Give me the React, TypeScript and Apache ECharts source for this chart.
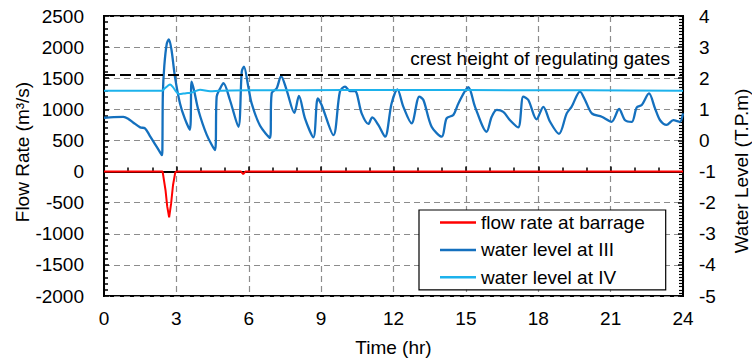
import React, { useEffect, useRef } from "react";
import * as echarts from "echarts";

// Flow rate at barrage (m3/s) vs time (hr)
const flowTime = [0, 2.43, 2.55, 2.62, 2.7, 2.78, 2.86, 2.95, 3.0, 5.68, 5.77, 5.86, 24];
const flowValue = [0, 0, -300, -560, -735, -520, -220, -20, 0, 0, -40, 0, 0];

// Water level at III (T.P.m)
const levelIIITime = [
  0, 0.4, 0.8, 1.0, 1.22, 1.5, 1.7, 1.9, 2.1, 2.3, 2.4, 2.42, 2.44, 2.5, 2.6, 2.69, 2.8, 2.94, 3.15,
  3.35, 3.56, 3.63, 3.73, 3.91, 4.26, 4.6, 4.67, 4.8, 4.95, 5.22, 5.57, 5.71, 5.8, 5.98, 6.12, 6.47,
  6.88, 6.95, 7.16, 7.34, 7.57, 7.89, 8.08, 8.33, 8.68, 8.86, 9.02, 9.51, 9.78, 9.99, 10.2, 10.4,
  10.68, 10.96, 11.12, 11.37, 11.65, 11.92, 12.16, 12.41, 12.75, 13.07, 13.24, 13.58, 14.0, 14.2,
  14.48, 14.69, 15.1, 15.38, 15.86, 16.07, 16.28, 16.55, 16.83, 17.17, 17.38, 17.59, 17.93, 18.21,
  18.49, 18.86, 19.18, 19.38, 19.73, 19.94, 20.22, 20.63, 21.04, 21.35, 21.6, 21.88, 22.08, 22.29,
  22.59, 22.84, 23.05, 23.32, 23.6, 23.87, 24,
];
const levelIIIValue = [
  0.73, 0.75, 0.76, 0.7, 0.57, 0.42, 0.39, 0.15, -0.1, -0.35, -0.47, -0.3, 1.5, 2.4, 3.1, 3.25, 2.9,
  2.05, 1.19, 0.7, 0.34, 1.89, 1.62, 0.98, 0.18, -0.31, 1.41, 1.65, 1.84, 1.3, 0.44, 2.21, 2.37, 1.73,
  1.19, 0.47, 0.08, 1.51, 1.68, 2.07, 1.62, 0.89, 1.43, 0.71, 0.1, 1.35, 1.14, 0.17, 1.57, 1.73,
  1.59, 1.59, 0.87, 0.53, 0.74, 0.5, 0.12, 1.19, 1.64, 1.08, 0.55, 1.41, 1.3, 0.44, 0.12, 0.71, 0.82,
  1.19, 1.71, 1.08, 0.28, 0.76, 0.98, 0.92, 0.65, 0.42, 1.41, 1.3, 0.68, 1.08, 0.6, 0.21, 0.87, 1.08,
  1.57, 1.3, 0.87, 0.76, 0.6, 1.01, 0.65, 0.6, 1.06, 1.14, 1.51, 1.03, 0.65, 0.5, 0.65, 0.6, 0.87,
];

// Water level at IV (T.P.m)
const levelIVTime = [0, 2.4, 2.5, 2.65, 2.74, 2.85, 3.0, 3.12, 3.4, 3.6, 3.98, 4.4, 4.8, 6, 10, 15, 20, 24];
const levelIVValue = [1.6, 1.6, 1.66, 1.76, 1.8, 1.72, 1.56, 1.49, 1.52, 1.53, 1.63, 1.58, 1.6, 1.61, 1.62, 1.62, 1.61, 1.6];

const crestHeight = 2.1;

const xTicks = { min: 0, max: 24, interval: 3 };
const flowTicks = { min: -2000, max: 2500, interval: 500 };
const levelTicks = { min: -5, max: 4, interval: 1 };

const FONT = "'Liberation Sans', Arial, sans-serif";
const FS = 19;

function zip(t: number[], v: number[]) {
  return t.map((x, i) => [x, v[i]]);
}

export default function App() {
  const ref = useRef<HTMLDivElement>(null);
  useEffect(() => {
    if (!ref.current) return;
    const chart = echarts.init(ref.current, null, { renderer: "svg" });
    const gridLine = { show: true, lineStyle: { color: "#8c8c8c", type: [6, 4] as any, width: 1.2 } };
    const axisLine = { show: true, lineStyle: { color: "#000", width: 2 } };
    const label = { color: "#000", fontSize: FS, fontFamily: FONT };
    const plain = (v: number) => String(v);
    chart.setOption({
      animation: false,
      backgroundColor: "#fff",
      textStyle: { fontFamily: FONT },
      grid: { left: 104, right: 69, top: 16, bottom: 63, show: true, borderColor: "#000", borderWidth: 2 },
      xAxis: {
        type: "value",
        ...xTicks,
        axisLine,
        axisTick: { show: true, inside: true, length: 5, lineStyle: { color: "#000", width: 1.5 } },
        minorTick: { show: true, splitNumber: 3, length: 4, lineStyle: { color: "#000", width: 1.5 } },
        axisLabel: { ...label, margin: 13, formatter: plain },
        splitLine: gridLine,
      },
      yAxis: [
        {
          type: "value",
          ...flowTicks,
          axisLine,
          axisTick: { show: true, inside: true, length: 5, lineStyle: { color: "#000", width: 1.5 } },
          minorTick: { show: true, splitNumber: 5, length: 4, lineStyle: { color: "#000", width: 1.5 } },
          axisLabel: { ...label, margin: 20, formatter: plain },
          splitLine: gridLine,
        },
        {
          type: "value",
          position: "right",
          ...levelTicks,
          axisLine,
          axisTick: { show: true, inside: true, length: 5, lineStyle: { color: "#000", width: 1.5 } },
          minorTick: { show: true, splitNumber: 10, length: 4, lineStyle: { color: "#000", width: 1.2 } },
          axisLabel: { ...label, margin: 16, formatter: plain },
          splitLine: { show: false },
        },
      ],
      legend: {
        orient: "vertical",
        left: 419,
        top: 210,
        padding: [3, 21, 3, 21],
        itemWidth: 36,
        itemHeight: 2.5,
        itemGap: 8.4,
        icon: "rect",
        backgroundColor: "#fff",
        borderColor: "#000",
        borderWidth: 1.2,
        borderRadius: 0,
        textStyle: { ...label, lineHeight: 18 },
        data: ["flow rate at barrage", "water level at III", "water level at IV"],
      },
      series: [
        {
          name: "flow rate at barrage",
          type: "line",
          yAxisIndex: 0,
          symbol: "none",
          lineStyle: { color: "#ff0000", width: 2 },
          itemStyle: { color: "#ff0000" },
          data: zip(flowTime, flowValue),
        },
        {
          name: "water level at III",
          type: "line",
          yAxisIndex: 1,
          symbol: "none",
          smooth: 0.3,
          lineStyle: { color: "#1470BE", width: 2.3 },
          itemStyle: { color: "#1470BE" },
          data: zip(levelIIITime, levelIIIValue),
          markLine: {
            silent: true,
            symbol: "none",
            lineStyle: { color: "#000", type: [11, 5] as any, width: 2 },
            label: { show: false },
            data: [{ yAxis: crestHeight }],
          },
        },
        {
          name: "water level at IV",
          type: "line",
          yAxisIndex: 1,
          symbol: "none",
          smooth: 0.3,
          lineStyle: { color: "#1DB2EC", width: 2 },
          itemStyle: { color: "#1DB2EC" },
          data: zip(levelIVTime, levelIVValue),
        },
      ],
      graphic: [
        {
          type: "text",
          x: 670,
          y: 68,
          style: {
            text: "crest height of regulating gates",
            fill: "#000",
            fontSize: FS,
            fontFamily: FONT,
            textAlign: "right",
            textVerticalAlign: "bottom",
          },
        },
        {
          type: "text",
          x: 22,
          y: 152,
          rotation: Math.PI / 2,
          style: {
            text: "Flow Rate (m³/s)",
            fill: "#000",
            fontSize: FS,
            fontFamily: FONT,
            textAlign: "center",
            textVerticalAlign: "middle",
          },
        },
        {
          type: "text",
          x: 741,
          y: 171,
          rotation: Math.PI / 2,
          style: {
            text: "Water Level (T.P.m)",
            fill: "#000",
            fontSize: FS,
            fontFamily: FONT,
            textAlign: "center",
            textVerticalAlign: "middle",
          },
        },
        {
          type: "text",
          x: 393.5,
          y: 347,
          style: {
            text: "Time (hr)",
            fill: "#000",
            fontSize: FS,
            fontFamily: FONT,
            textAlign: "center",
            textVerticalAlign: "middle",
          },
        },
      ],
    });
    return () => chart.dispose();
  }, []);
  return <div ref={ref} style={{ position: "fixed", left: 0, top: 0, width: 752, height: 359 }} />;
}
